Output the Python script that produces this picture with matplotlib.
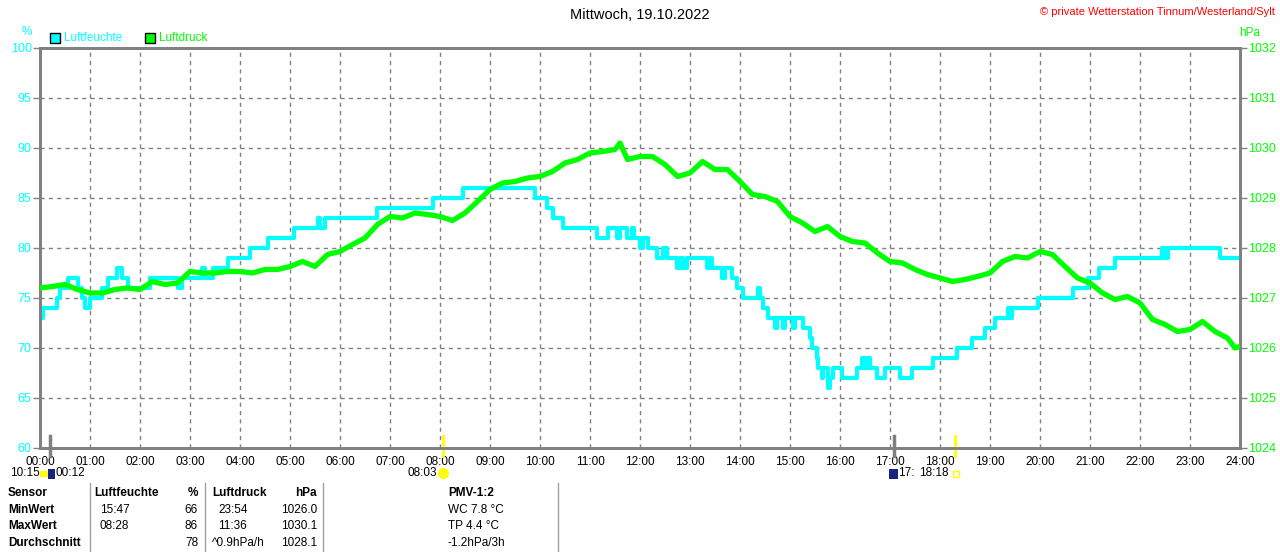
"""Tagesverlauf Luftfeuchte und Luftdruck, Wetterstation Tinnum/Sylt, 19.10.2022."""
import matplotlib

matplotlib.use("Agg")
import matplotlib.pyplot as plt
from matplotlib.patches import Rectangle
from matplotlib.lines import Line2D

plt.rcParams["font.family"] = ["Liberation Sans", "DejaVu Sans"]

# Luftfeuchte (%), Stufen: Stunde ab der der Wert gilt
hum_hours = [0.0, 0.067, 0.333, 0.4, 0.567, 0.767, 0.833, 0.9, 1.0, 1.233, 1.367, 1.533,
             1.633, 1.767, 2.2, 2.767, 2.833, 3.233, 3.3, 3.467, 3.767, 4.2, 4.567, 5.087,
             5.567, 5.6, 5.7, 6.733, 7.867, 8.467, 9.9, 10.133, 10.267, 10.467, 11.133,
             11.367, 11.533, 11.6, 11.733, 11.833, 11.88, 12.0, 12.067, 12.167, 12.333,
             12.467, 12.533, 12.733, 12.8, 12.867, 12.933, 13.333, 13.4, 13.433, 13.633,
             13.7, 13.833, 13.933, 14.067, 14.367, 14.4, 14.467, 14.567, 14.7, 14.733,
             14.867, 14.9, 15.067, 15.1, 15.267, 15.4, 15.433, 15.533, 15.567, 15.633,
             15.667, 15.767, 15.8, 15.867, 16.033, 16.333, 16.433, 16.5, 16.567, 16.6,
             16.733, 16.9, 17.2, 17.433, 17.867, 18.333, 18.633, 18.9, 19.1, 19.367, 19.4,
             19.433, 19.967, 20.667, 20.967, 21.187, 21.5, 22.433, 22.5, 22.567, 23.6, 24.0]
hum_values = [73, 74, 75, 76, 77, 76, 75, 74, 75, 76, 77, 78,
              77, 76, 77, 76, 77, 78, 77, 78, 79, 80, 81, 82,
              83, 82, 83, 84, 85, 86, 85, 84, 83, 82, 81,
              82, 81, 82, 81, 82, 81, 80, 81, 80, 79,
              80, 79, 78, 79, 78, 79, 78, 79, 78, 77,
              78, 77, 76, 75, 76, 75, 74, 73, 72, 73,
              72, 73, 72, 73, 72, 71, 70, 69, 68, 67,
              68, 66, 67, 68, 67, 68, 69, 68, 69, 68,
              67, 68, 67, 68, 69, 70, 71, 72, 73, 74, 73,
              74, 75, 76, 77, 78, 79, 80, 79, 80, 79, 79]

# Luftdruck (hPa)
p_hours = [0.0, 0.25, 0.5, 0.75, 1.0, 1.25, 1.5, 1.75, 2.0, 2.25, 2.5, 2.75,
           3.0, 3.25, 3.5, 3.75, 4.0, 4.25, 4.5, 4.75, 5.0, 5.25, 5.5, 5.75,
           6.0, 6.25, 6.5, 6.75, 7.0, 7.25, 7.5, 7.75, 8.0, 8.25, 8.5, 8.75,
           9.0, 9.25, 9.5, 9.75, 10.0, 10.25, 10.5, 10.75, 11.0, 11.25, 11.5, 11.6,
           11.75, 12.0, 12.25, 12.5, 12.75, 13.0, 13.25, 13.5, 13.75, 14.0, 14.25, 14.5,
           14.75, 15.0, 15.25, 15.5, 15.75, 16.0, 16.25, 16.5, 16.75, 17.0, 17.25, 17.5,
           17.75, 18.0, 18.25, 18.5, 18.75, 19.0, 19.25, 19.5, 19.75, 20.0, 20.25, 20.5,
           20.75, 21.0, 21.25, 21.5, 21.75, 22.0, 22.25, 22.5, 22.75, 23.0, 23.25, 23.5,
           23.75, 23.9, 24.0]
p_values = [1027.20, 1027.23, 1027.27, 1027.17, 1027.10, 1027.10, 1027.17, 1027.20,
            1027.17, 1027.33, 1027.27, 1027.30, 1027.53, 1027.50, 1027.50, 1027.53,
            1027.53, 1027.50, 1027.57, 1027.57, 1027.63, 1027.73, 1027.63, 1027.87,
            1027.93, 1028.07, 1028.20, 1028.47, 1028.63, 1028.60, 1028.70, 1028.67,
            1028.63, 1028.55, 1028.70, 1028.93, 1029.17, 1029.30, 1029.33, 1029.40,
            1029.43, 1029.53, 1029.70, 1029.77, 1029.90, 1029.93, 1029.97, 1030.10,
            1029.77, 1029.83, 1029.83, 1029.67, 1029.43, 1029.50, 1029.73, 1029.57,
            1029.57, 1029.33, 1029.07, 1029.03, 1028.93, 1028.63, 1028.50, 1028.33,
            1028.43, 1028.23, 1028.13, 1028.10, 1027.90, 1027.73, 1027.70, 1027.57,
            1027.47, 1027.40, 1027.33, 1027.37, 1027.43, 1027.50, 1027.73, 1027.83,
            1027.80, 1027.93, 1027.87, 1027.63, 1027.40, 1027.30, 1027.10, 1026.97,
            1027.03, 1026.90, 1026.57, 1026.47, 1026.33, 1026.37, 1026.53, 1026.33,
            1026.20, 1026.00, 1026.03]

x_labels = [f"{h:02d}:00" for h in range(25)]
sun_events = [8.05, 18.3]      # Aufgang 08:03, Untergang 18:18
moon_events = [0.2, 17.07]

CYAN = "#00FFFF"
GREEN = "#00FF00"
GRAY = "#808080"

fig = plt.figure(figsize=(12.8, 5.52), dpi=100)
ax = fig.add_axes([40 / 1280, 104 / 552, 1200 / 1280, 400 / 552])
ax2 = ax.twinx()

ax.set_xlim(0, 24)
ax.set_ylim(60, 100)
ax2.set_ylim(1024, 1032)

ax.plot(hum_hours, hum_values, drawstyle="steps-post", color=CYAN, lw=3, zorder=3)
ax2.plot(p_hours, p_values, color=GREEN, lw=3.8, zorder=4)

ax.set_xticks(range(25))
ax.set_xticklabels(x_labels)
ax.set_yticks(range(60, 101, 5))
ax2.set_yticks(range(1024, 1033))
ax.grid(True, color=GRAY, linestyle=(0, (3, 3)), lw=1)
ax.tick_params(axis="x", length=0, pad=6, labelsize=8.5, colors="black")
ax.tick_params(axis="y", length=5, width=1, color=GRAY, pad=1, labelsize=9, labelcolor=CYAN)
ax2.tick_params(axis="y", length=5, width=1, color=GRAY, pad=1, labelsize=9, labelcolor=GREEN)
for a in (ax, ax2):
    for s in a.spines.values():
        s.set_color(GRAY)
        s.set_linewidth(2)

# Sonnen- und Mondmarken an der x-Achse
for h in sun_events:
    ax.plot([h, h], [61.2, 59.2], color="#FFFF00", lw=2, clip_on=False, zorder=5)
for h in moon_events:
    ax.plot([h, h], [61.2, 59.2], color=GRAY, lw=2.5, clip_on=False, zorder=5)

# Titel und Beschriftungen
fig.text(0.5, 1 - 15 / 552, "Mittwoch, 19.10.2022", ha="center", va="center", fontsize=10.5)
fig.text(1275 / 1280, 1 - 12 / 552, "© private Wetterstation Tinnum/Westerland/Sylt",
         ha="right", va="center", fontsize=8, color="red")
fig.text(27 / 1280, 1 - 32 / 552, "%", ha="center", va="center", fontsize=8.5, color=CYAN)
fig.text(1250 / 1280, 1 - 33 / 552, "hPa", ha="center", va="center", fontsize=8.5, color=GREEN)

for x0, label, col in [(50, "Luftfeuchte", CYAN), (145, "Luftdruck", GREEN)]:
    fig.patches.append(Rectangle((x0 / 1280, 1 - 43 / 552), 10 / 1280, 10 / 552,
                                 transform=fig.transFigure, facecolor=col,
                                 edgecolor="black", lw=1))
    fig.text((x0 + 14) / 1280, 1 - 38 / 552, label, va="center", fontsize=8.5, color=col)

# Zeiten unter der Achse
def px(x, y):
    return x / 1280, 1 - y / 552

fig.text(*px(10, 473), "10:15", va="center", fontsize=8.5)
fig.text(*px(55, 473), "00:12", va="center", fontsize=8.5)
fig.text(*px(437, 473), "08:03", ha="right", va="center", fontsize=8.5)
fig.text(*px(898, 473), "17:", va="center", fontsize=8.5)
fig.text(*px(949, 473), "18:18", ha="right", va="center", fontsize=8.5)
fig.patches.append(Rectangle(px(40, 477), 8 / 1280, 6 / 552, transform=fig.transFigure,
                             facecolor="#FFFF00", edgecolor="none"))
fig.patches.append(Rectangle(px(48, 479), 7 / 1280, 10 / 552, transform=fig.transFigure,
                             facecolor="#1A237E", edgecolor="none"))
fig.patches.append(Rectangle(px(889, 479), 9 / 1280, 10 / 552, transform=fig.transFigure,
                             facecolor="#1A237E", edgecolor="none"))
fig.patches.append(Rectangle(px(953, 477), 6 / 1280, 6 / 552, transform=fig.transFigure,
                             facecolor="white", edgecolor="#FFFF00", lw=1))
fig.lines.append(Line2D([442.5 / 1280], [1 - 473 / 552], marker="o", ms=7,
                        color="#FFFF00", transform=fig.transFigure))

# Tabelle unten
for xs in (90, 205, 323, 558):
    fig.lines.append(Line2D([xs / 1280, xs / 1280], [1 - 483 / 552, 0], color="#A0A0A0",
                            lw=1, transform=fig.transFigure))

rows_y = [493, 510, 526, 543]
bold = dict(fontsize=8.5, fontweight="bold", va="center")
norm = dict(fontsize=8.5, va="center")
fig.text(*px(8, rows_y[0]), "Sensor", **bold)
fig.text(*px(8, rows_y[1]), "MinWert", **bold)
fig.text(*px(8, rows_y[2]), "MaxWert", **bold)
fig.text(*px(8, rows_y[3]), "Durchschnitt", **bold)
fig.text(*px(94, rows_y[0]), "Luftfeuchte", **bold)
fig.text(*px(198, rows_y[0]), "%", ha="right", **bold)
fig.text(*px(212, rows_y[0]), "Luftdruck", **bold)
fig.text(*px(317, rows_y[0]), "hPa", ha="right", **bold)
fig.text(*px(448, rows_y[0]), "PMV-1:2", **bold)

hum_col = [("15:47", "66"), ("08:28", "86"), ("", "78")]
p_col = [("23:54", "1026.0"), ("11:36", "1030.1"), ("^0.9hPa/h", "1028.1")]
pmv_col = ["WC 7.8 °C", "TP 4.4 °C", "-1.2hPa/3h"]
for i in range(3):
    y = rows_y[i + 1]
    fig.text(*px(100, y), hum_col[i][0], **norm)
    fig.text(*px(198, y), hum_col[i][1], ha="right", **norm)
    fig.text(*px(212 if i == 2 else 218, y), p_col[i][0], **norm)
    fig.text(*px(317, y), p_col[i][1], ha="right", **norm)
    fig.text(*px(448, y), pmv_col[i], **norm)

fig.savefig("out.png", dpi=100)
